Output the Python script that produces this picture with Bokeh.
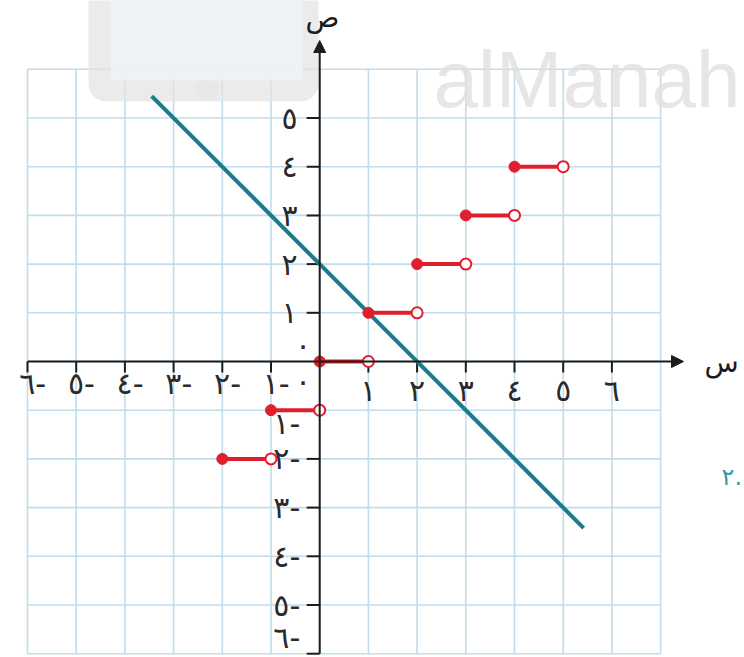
from bokeh.plotting import figure
from bokeh.models import Range1d, ColumnDataSource, Arrow, NormalHead, BoxAnnotation, Label
from bokeh.core.properties import value
from bokeh.embed import file_html
from bokeh.resources import INLINE

# ---- data -------------------------------------------------------------
grid_x = [-6, -5, -4, -3, -2, -1, 0, 1, 2, 3, 4, 5, 6, 7]
grid_y = [-6, -5, -4, -3, -2, -1, 0, 1, 2, 3, 4, 5, 6]

x_ticks = [-6, -5, -4, -3, -2, -1, 1, 2, 3, 4, 5, 6]
x_labels = ["٦-", "٥-", "٤-", "٣-", "٢-", "١-", "١", "٢", "٣", "٤", "٥", "٦"]
y_ticks = [-6, -5, -4, -3, -2, -1, 1, 2, 3, 4, 5]
y_labels = ["٦-", "٥-", "٤-", "٣-", "٢-", "١-", "١", "٢", "٣", "٤", "٥"]

# greatest-integer steps: y = [x] on [start, end)
step_start = [-2, -1, 0, 1, 2, 3, 4]
step_end = [-1, 0, 1, 2, 3, 4, 5]
step_value = [-2, -1, 0, 1, 2, 3, 4]

# straight line y = 2 - x, drawn between its two end points
line_x = [-3.45, 5.42]
line_y = [5.45, -3.42]

# ---- styling ----------------------------------------------------------
FONT = "DejaVu Sans"
GRID_COLOR = "#c3dceb"
AXIS_COLOR = "#1c1c1c"
TEAL = "#1b7d8b"
RED = "#e11f2c"
UNIT = 48.7          # pixels per unit
X0, Y0 = 319.2, 361  # pixel position of the origin


def px_x(px):
    return (px - X0) / UNIT


def px_y(py):
    return (Y0 - py) / UNIT


p = figure(
    width=744, height=657,
    x_range=Range1d(px_x(0), px_x(744)),
    y_range=Range1d(px_y(657), px_y(0)),
    x_axis_location=None, y_axis_location=None,
    toolbar_location=None, output_backend="svg",
    min_border=0, outline_line_color=None,
    background_fill_color="white", border_fill_color="white",
)
p.xgrid.visible = False
p.ygrid.visible = False

# square grid
gmin_x, gmax_x = grid_x[0], grid_x[-1]
gmin_y, gmax_y = grid_y[0], grid_y[-1]
p.segment(x0=grid_x, y0=[gmin_y] * len(grid_x), x1=grid_x, y1=[gmax_y] * len(grid_x),
          line_color=GRID_COLOR, line_width=1.6, level="image")
p.segment(x0=[gmin_x] * len(grid_y), y0=grid_y, x1=[gmax_x] * len(grid_y), y1=grid_y,
          line_color=GRID_COLOR, line_width=1.6, level="image")

# faint publisher mark behind the drawing
p.add_layout(BoxAnnotation(left=px_x(88), right=px_x(318), bottom=px_y(101), top=px_y(-30),
                           fill_color="#e2e2e2", fill_alpha=0.7, line_color=None,
                           border_radius=18, level="underlay"))
p.add_layout(BoxAnnotation(left=px_x(110), right=px_x(302), bottom=px_y(80), top=px_y(-30),
                           fill_color="#eff2f7", fill_alpha=0.85, line_color=None,
                           level="underlay"))
p.scatter(x=[px_x(207)], y=[px_y(89)], size=22, marker="circle",
          fill_color="#f3f3f3", line_color=None, level="underlay")
p.add_layout(Label(x=px_x(433), y=px_y(79), text="alManah", text_font="Liberation Sans",
                   text_font_size="80px", text_color="#e0e0e0", text_alpha=0.8,
                   text_baseline="alphabetic", level="underlay"))

# axes with arrow heads
p.add_layout(Arrow(end=NormalHead(size=12, fill_color=AXIS_COLOR, line_color=AXIS_COLOR),
                   x_start=gmin_x, y_start=0, x_end=px_x(683), y_end=0,
                   line_color=AXIS_COLOR, line_width=2))
p.add_layout(Arrow(end=NormalHead(size=12, fill_color=AXIS_COLOR, line_color=AXIS_COLOR),
                   x_start=0, y_start=gmin_y, x_end=0, y_end=px_y(40),
                   line_color=AXIS_COLOR, line_width=2))

# tick marks
xt_len = 11 / UNIT
yt_len = 13 / UNIT
p.segment(x0=x_ticks, y0=[0] * len(x_ticks), x1=x_ticks, y1=[-xt_len] * len(x_ticks),
          line_color=AXIS_COLOR, line_width=2)
p.segment(x0=[0] * len(y_ticks), y0=y_ticks, x1=[-yt_len] * len(y_ticks), y1=y_ticks,
          line_color=AXIS_COLOR, line_width=2)

# tick labels
lab_kw = dict(text_font=value(FONT), text_font_size="30px", text_color="#2a2a2a",
              text_baseline="middle")
x_neg = [(t, s) for t, s in zip(x_ticks, x_labels) if t < 0]
x_pos = [(t, s) for t, s in zip(x_ticks, x_labels) if t > 0]
p.text(x=[t - 0.17 for t, _ in x_neg], y=[-0.45] * len(x_neg),
       text=[s for _, s in x_neg], text_align="left", **lab_kw)
p.text(x=[t for t, _ in x_pos], y=[-0.6] * len(x_pos),
       text=[s for _, s in x_pos], text_align="center", **lab_kw)

y_neg = [(t, s) for t, s in zip(y_ticks, y_labels) if t < 0]
y_pos = [(t, s) for t, s in zip(y_ticks, y_labels) if t > 0]


def y_neg_pos(t):
    # the -1 label sits just under the step drawn on that line,
    # the -6 label is lifted to stay inside the frame
    if t == -1:
        return t - 0.27
    if t == gmin_y:
        return t + 0.34
    return t


p.text(x=[-0.4] * len(y_neg), y=[y_neg_pos(t) for t, _ in y_neg],
       text=[s for _, s in y_neg], text_align="right", **lab_kw)
p.text(x=[-0.62] * len(y_pos), y=[t for t, _ in y_pos],
       text=[s for _, s in y_pos], text_align="center", **lab_kw)
p.text(x=[-0.34, -0.34], y=[0.33, -0.42], text=["٠", "٠"], text_align="center", **lab_kw)

# axis names
p.text(x=[px_x(322)], y=[px_y(17)], text=["ص"], text_align="center", text_baseline="middle",
       text_font=value(FONT), text_font_size="28px", text_color=AXIS_COLOR)
p.text(x=[px_x(721)], y=[px_y(362)], text=["س"], text_align="center", text_baseline="middle",
       text_font=value(FONT), text_font_size="28px", text_color=AXIS_COLOR)
p.text(x=[px_x(721)], y=[px_y(476)], text=["٢."], text_align="left", text_baseline="middle",
       text_font=value(FONT), text_font_size="24px", text_color="#3a9aa6")

# line y = 2 - x
p.line(x=line_x, y=line_y, line_color=TEAL, line_width=4)

# step function
steps = ColumnDataSource(dict(x0=step_start, x1=step_end, y=step_value))
p.segment(x0="x0", y0="y", x1="x1", y1="y", source=steps, line_color=RED, line_width=4)
p.scatter(x="x0", y="y", source=steps, size=11, marker="circle",
          fill_color=RED, line_color=RED)
p.scatter(x="x1", y="y", source=steps, size=11, marker="circle",
          fill_color="white", line_color=RED, line_width=2)

open("out.html", "w").write(file_html(p, INLINE))
